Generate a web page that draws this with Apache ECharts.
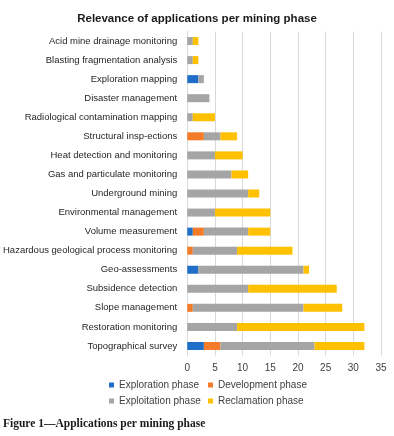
<!DOCTYPE html>
<html>
<head>
<meta charset="utf-8">
<script src="https://cdn.jsdelivr.net/npm/echarts@6/dist/echarts.min.js"></script>
<style>
  html, body { margin: 0; padding: 0; background: #fff; }
  #chart { width: 394px; height: 436px; }
</style>
</head>
<body>
<div id="chart"></div>
<script>
// categories, listed top to bottom as in the figure
const categories = [
  'Acid mine drainage monitoring',
  'Blasting fragmentation analysis',
  'Exploration mapping',
  'Disaster management',
  'Radiological contamination mapping',
  'Structural insp-ections',
  'Heat detection and monitoring',
  'Gas and particulate monitoring',
  'Underground mining',
  'Environmental management',
  'Volume measurement',
  'Hazardous geological process monitoring',
  'Geo-assessments',
  'Subsidence detection',
  'Slope management',
  'Restoration monitoring',
  'Topographical survey'
];
const exploration = [0, 0, 2, 0, 0, 0, 0, 0, 0, 0, 1, 0, 2, 0, 0, 0, 3];
const development = [0, 0, 0, 0, 0, 3, 0, 0, 0, 0, 2, 1, 0, 0, 1, 0, 3];
const exploitation = [1, 1, 1, 4, 1, 3, 5, 8, 11, 5, 8, 8, 19, 11, 20, 9, 17];
const reclamation = [1, 1, 0, 0, 4, 3, 5, 3, 2, 10, 4, 10, 1, 16, 7, 23, 9];
const xTicks = [0, 5, 10, 15, 20, 25, 30, 35];

const seriesDefs = [
  { name: 'Exploration phase', data: exploration, color: '#1F6FC9' },
  { name: 'Development phase', data: development, color: '#F47B2A' },
  { name: 'Exploitation phase', data: exploitation, color: '#A5A5A5' },
  { name: 'Reclamation phase', data: reclamation, color: '#FFC000' }
];

const myChart = echarts.init(document.getElementById('chart'));
myChart.setOption({
  animation: false,
  title: {
    text: 'Relevance of applications per mining phase',
    left: 'center',
    top: 8,
    textStyle: { fontFamily: 'Liberation Sans', fontSize: 11.5, fontWeight: 'bold', color: '#1a1a1a' }
  },
  grid: { left: 186, right: 13, top: 31.5, bottom: 80.5 },
  legend: {
    left: 104,
    top: 374,
    width: 200,
    itemWidth: 5,
    itemHeight: 5,
    itemGap: 4,
    icon: 'rect',
    textStyle: { fontFamily: 'Liberation Sans', fontSize: 10, color: '#404040', width: 85, lineHeight: 12 },
    data: seriesDefs.map((s) => s.name)
  },
  xAxis: {
    type: 'value',
    min: 0,
    max: 35,
    interval: 5,
    axisLine: { show: false },
    axisTick: { show: false },
    splitLine: { lineStyle: { color: '#d9d9d9', width: 1 } },
    axisLabel: {
      margin: 8,
      fontFamily: 'Liberation Sans',
      fontSize: 10,
      color: '#404040',
      formatter(v) { return xTicks.indexOf(v) >= 0 ? String(v) : ''; }
    }
  },
  yAxis: {
    type: 'category',
    inverse: true,
    data: categories,
    axisLine: { lineStyle: { color: '#d9d9d9' } },
    axisTick: { show: false },
    axisLabel: { margin: 10, fontFamily: 'Liberation Sans', fontSize: 9.5, color: '#262626', interval: 0 }
  },
  graphic: [{
    type: 'text',
    left: 3,
    top: 418,
    style: {
      text: 'Figure 1\u2014Applications per mining phase',
      font: 'bold 11.5px "Liberation Serif"',
      fill: '#1a1a1a'
    }
  }],
  series: seriesDefs.map((s) => ({
    name: s.name,
    type: 'bar',
    stack: 'total',
    barWidth: 8,
    itemStyle: { color: s.color },
    data: s.data
  }))
});
</script>
</body>
</html>
